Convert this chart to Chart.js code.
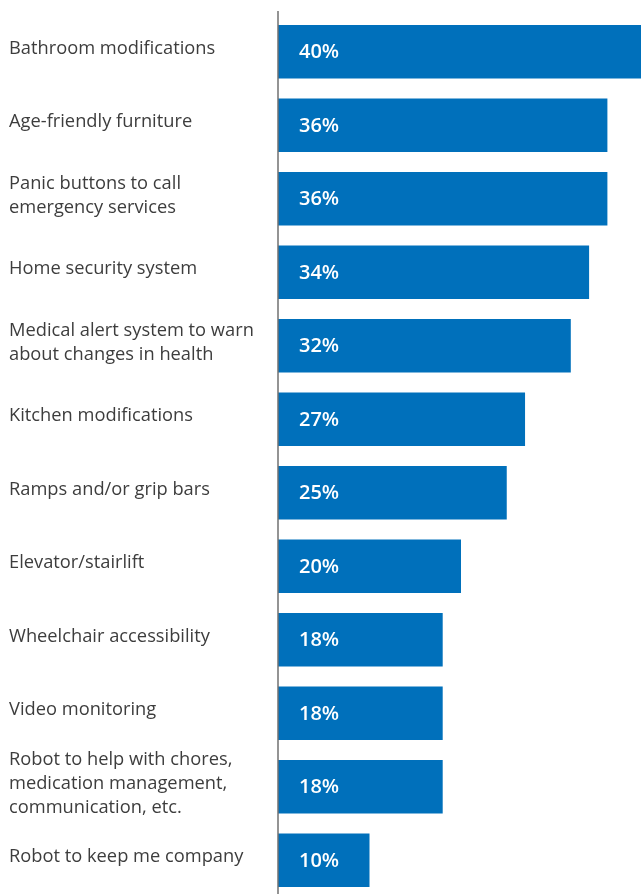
<!DOCTYPE html>
<html>
<head>
<meta charset="utf-8">
<script src="https://cdn.jsdelivr.net/npm/chart.js@4/dist/chart.umd.min.js"></script>
<style>
  html, body { margin: 0; padding: 0; background: #ffffff; overflow: hidden; }
  #wrap { position: relative; width: 644px; height: 897px; }
</style>
</head>
<body>
<div id="wrap"><canvas id="chart"></canvas></div>
<script>
// Home modifications people would consider, share of respondents
const categories = [
  'Bathroom modifications',
  'Age-friendly furniture',
  ['Panic buttons to call', 'emergency services'],
  'Home security system',
  ['Medical alert system to warn', 'about changes in health'],
  'Kitchen modifications',
  'Ramps and/or grip bars',
  'Elevator/stairlift',
  'Wheelchair accessibility',
  'Video monitoring',
  ['Robot to help with chores,', 'medication management,', 'communication, etc.'],
  'Robot to keep me company'
];
const shares = [40, 36, 36, 34, 32, 27, 25, 20, 18, 18, 18, 10];

const BAR_BLUE = '#0070bb';
const LABEL_FONT = 'Open Sans';

// vertical axis line at zero, drawn over the bars' left edges
const zeroLine = {
  id: 'zeroLine',
  afterDatasetsDraw(chart) {
    const { ctx, chartArea, scales } = chart;
    const x = scales.x.getPixelForValue(0);
    ctx.save();
    ctx.strokeStyle = '#707070';
    ctx.lineWidth = 1.5;
    ctx.beginPath();
    ctx.moveTo(x, chartArea.top - 4);
    ctx.lineTo(x, chartArea.bottom);
    ctx.stroke();
    ctx.restore();
  }
};

// percentage written inside each bar near its base
const valueLabels = {
  id: 'valueLabels',
  afterDatasetsDraw(chart) {
    const { ctx } = chart;
    const meta = chart.getDatasetMeta(0);
    ctx.save();
    ctx.fillStyle = '#ffffff';
    ctx.font = '600 20px "' + LABEL_FONT + '"';
    ctx.textAlign = 'left';
    ctx.textBaseline = 'middle';
    meta.data.forEach((bar, i) => {
      ctx.fillText(shares[i] + '%', bar.base + 21, bar.y + 1);
    });
    ctx.restore();
  }
};

new Chart(document.getElementById('chart'), {
  type: 'bar',
  data: {
    labels: categories,
    datasets: [{
      data: shares,
      backgroundColor: BAR_BLUE,
      borderWidth: 0,
      categoryPercentage: 1,
      barPercentage: 0.728
    }]
  },
  options: {
    indexAxis: 'y',
    responsive: true,
    maintainAspectRatio: false,
    animation: false,
    devicePixelRatio: 1,
    layout: { padding: { left: 9, top: 15, right: 0, bottom: 0 } },
    plugins: {
      legend: { display: false },
      tooltip: { enabled: false }
    },
    scales: {
      x: {
        min: 0,
        max: 40,
        display: false
      },
      y: {
        type: 'category',
        offset: true,
        grid: { display: false },
        border: { display: false },
        ticks: {
          autoSkip: false,
          crossAlign: 'far',
          padding: 0,
          labelOffset: -3,
          color: '#3d3d3d',
          font: { family: LABEL_FONT, size: 18.3, lineHeight: 1.31 }
        },
        afterFit(scale) {
          scale.width = 269;
          scale.paddingTop = 0;
          scale.paddingBottom = 0;
        }
      }
    }
  },
  plugins: [zeroLine, valueLabels]
});
</script>
</body>
</html>
